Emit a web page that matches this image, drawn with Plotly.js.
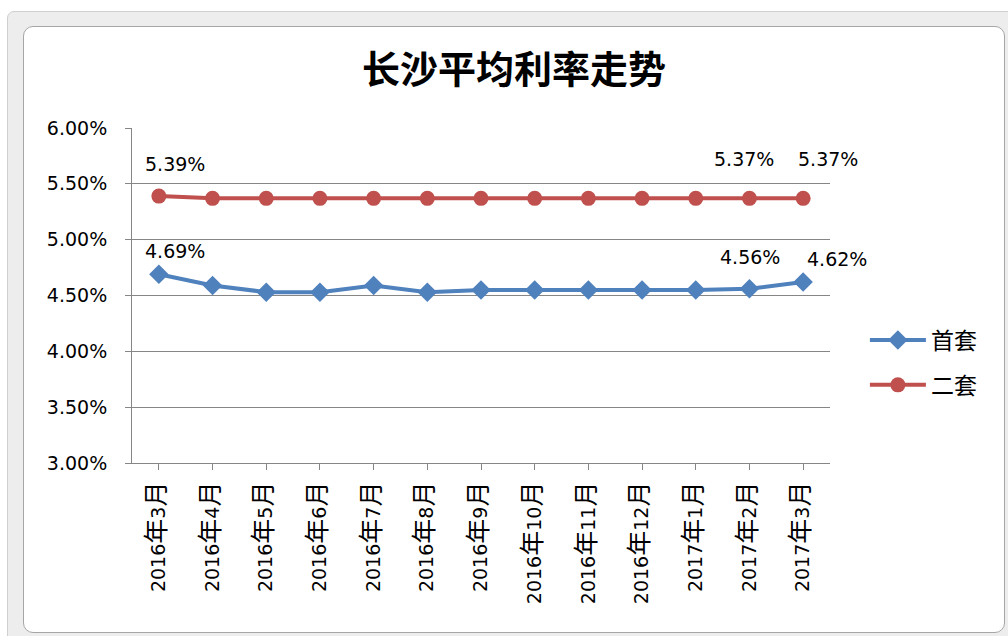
<!DOCTYPE html>
<html>
<head>
<meta charset="utf-8">
<script src="https://cdn.plot.ly/plotly-3.0.1.min.js"></script>
<style>
  html, body { margin: 0; padding: 0; background: #ffffff; width: 1008px; height: 636px; overflow: hidden; }
  #outer { position: absolute; left: 7px; top: 11px; width: 1020px; height: 640px; background: #ededed; border: 1px solid #cfcfcf; border-radius: 7px; }
  #inner { position: absolute; left: 23px; top: 26px; width: 980px; height: 605px; background: #ffffff; border: 1px solid #a6a6a6; border-radius: 10px; }
  #chart { position: absolute; left: 0; top: 0; width: 1008px; height: 636px; }
</style>
</head>
<body>
<div id="outer"></div>
<div id="inner"></div>
<div id="chart"></div>
<script>
const categories = ['2016年3月','2016年4月','2016年5月','2016年6月','2016年7月','2016年8月','2016年9月','2016年10月','2016年11月','2016年12月','2017年1月','2017年2月','2017年3月'];
const firstHome = [4.69, 4.59, 4.53, 4.53, 4.59, 4.53, 4.55, 4.55, 4.55, 4.55, 4.55, 4.56, 4.62];
const secondHome = [5.39, 5.37, 5.37, 5.37, 5.37, 5.37, 5.37, 5.37, 5.37, 5.37, 5.37, 5.37, 5.37];
const seriesNames = ['首套', '二套'];
const yTicks = [3.0, 3.5, 4.0, 4.5, 5.0, 5.5, 6.0];
// data labels shown: [seriesIndex, pointIndex, xshift, yshift]
const labelSpecs = [
  [0, 0, 16, 23], [0, 11, 1, 32], [0, 12, 34, 23],
  [1, 0, 16, 32], [1, 11, -5, 39], [1, 12, 25, 39]
];

const FONT = 'DejaVu Sans, Noto Sans CJK SC, sans-serif';
const seriesData = [firstHome, secondHome];

const idx = categories.map((c, i) => i);
const tickText = categories.map(c => c.replace(/([年月])/g, '<span style="font-size:25px">$1</span>'));

const traces = [
  {
    x: idx, y: firstHome, name: seriesNames[0], legendgroup: 'g1', type: 'scatter', mode: 'lines+markers',
    line: { color: '#4F81BD', width: 4 },
    marker: { symbol: 'diamond', size: 15, color: '#4F81BD' }
  },
  {
    x: idx, y: secondHome, name: seriesNames[1], legendgroup: 'g2', type: 'scatter', mode: 'lines+markers',
    line: { color: '#C0504D', width: 4 },
    marker: { symbol: 'circle', size: 15, color: '#C0504D' }
  }
];

const annotations = labelSpecs.map(([s, i, dx, dy]) => ({
  x: i, y: seriesData[s][i], xref: 'x', yref: 'y',
  text: seriesData[s][i].toFixed(2) + '%',
  showarrow: false, xshift: dx, yshift: dy,
  font: { family: FONT, size: 19, color: '#000000' }
}));

const layout = {
  width: 1008, height: 636,
  paper_bgcolor: 'rgba(0,0,0,0)', plot_bgcolor: 'rgba(0,0,0,0)',
  margin: { l: 132, r: 178, t: 128, b: 173 },
  title: {
    text: '<b>长沙平均利率走势</b>',
    font: { family: 'Noto Sans CJK SC, sans-serif', size: 38, color: '#000000' },
    x: 0.51, xanchor: 'center', y: 0.89, yanchor: 'middle'
  },
  font: { family: FONT, size: 19, color: '#000000' },
  xaxis: {
    range: [-0.5, 12.5], tickmode: 'array', tickvals: idx, ticktext: tickText,
    tickangle: -90, showgrid: false, zeroline: false,
    showline: true, linecolor: '#868686', linewidth: 1,
    ticks: 'outside', tickson: 'boundaries', ticklen: 6, tickcolor: '#868686',
    ticklabelstandoff: 4,
    tickfont: { family: FONT, size: 19, color: '#000000' },
    fixedrange: true
  },
  yaxis: {
    range: [3, 6], tickmode: 'array', tickvals: yTicks,
    ticktext: yTicks.map(v => v.toFixed(2) + '%'),
    showgrid: true, gridcolor: '#868686', gridwidth: 1, zeroline: false,
    showline: true, linecolor: '#868686', linewidth: 1,
    ticks: 'outside', ticklen: 6, tickcolor: '#868686',
    ticklabelstandoff: 14,
    tickfont: { family: FONT, size: 19, color: '#000000' },
    fixedrange: true
  },
  legend: {
    x: 1.05, xanchor: 'left', y: 0.3, yanchor: 'middle',
    font: { family: 'Noto Sans CJK SC, sans-serif', size: 23, color: '#000000' },
    itemwidth: 56, tracegroupgap: 12, bgcolor: 'rgba(0,0,0,0)'
  },
  annotations: annotations,
  showlegend: true
};

Plotly.newPlot('chart', traces, layout, { displayModeBar: false, staticPlot: true });
</script>
</body>
</html>
